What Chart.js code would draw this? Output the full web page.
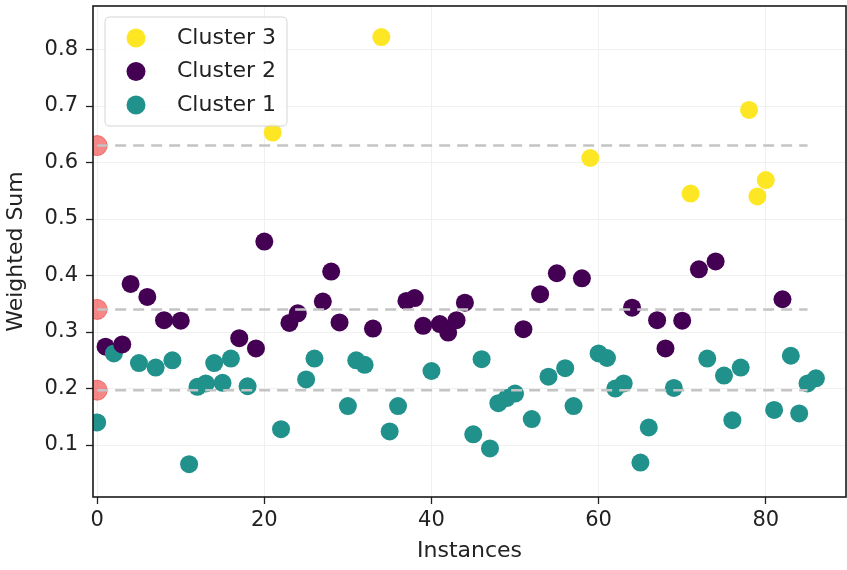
<!DOCTYPE html>
<html><head><meta charset="utf-8">
<script src="https://cdn.jsdelivr.net/npm/chart.js@4"></script>
<style>html,body{margin:0;padding:0;background:#fff;}</style>
</head><body>
<canvas id="c" width="847" height="570"></canvas>
<script>
const instances = [0,1,2,3,4,5,6,7,8,9,10,11,12,13,14,15,16,17,18,19,20,21,22,23,24,25,26,27,28,29,30,31,32,33,34,35,36,37,38,39,40,41,42,43,44,45,46,47,48,49,50,51,52,53,54,55,56,57,58,59,60,61,62,63,64,65,66,67,68,69,70,71,72,73,74,75,76,77,78,79,80,81,82,83,84,85,86];
const weightedSum = [0.140,0.274,0.262,0.278,0.385,0.245,0.362,0.237,0.321,0.250,
  0.320,0.066,0.203,0.209,0.245,0.210,0.253,0.289,0.204,0.271,
  0.460,0.653,0.128,0.316,0.333,0.216,0.253,0.354,0.407,0.317,
  0.169,0.250,0.242,0.306,0.822,0.124,0.169,0.355,0.360,0.311,
  0.231,0.314,0.299,0.321,0.352,0.119,0.252,0.094,0.174,0.183,
  0.191,0.305,0.146,0.367,0.221,0.404,0.236,0.169,0.395,0.608,
  0.262,0.254,0.200,0.209,0.343,0.069,0.131,0.321,0.271,0.201,
  0.320,0.545,0.411,0.253,0.425,0.223,0.144,0.237,0.693,0.540,
  0.569,0.162,0.358,0.258,0.156,0.209,0.218];
const clusterOf = [1,2,1,2,2,1,2,1,2,1,
  2,1,1,1,1,1,1,2,1,2,
  2,3,1,2,2,1,1,2,2,2,
  1,1,1,2,3,1,1,2,2,2,
  1,2,2,2,2,1,1,1,1,1,
  1,2,1,2,1,2,1,1,2,3,
  1,1,1,1,2,1,1,2,2,1,
  2,3,2,1,2,1,1,1,3,3,
  3,1,2,1,1,1,1];
const legendClusters = [3, 2, 1];
const thresholds = [0.63, 0.34, 0.197];
const thresholdSpan = [0, 85];
const xTickValues = [0, 20, 40, 60, 80];
const yTickValues = [0.1, 0.2, 0.3, 0.4, 0.5, 0.6, 0.7, 0.8];

const clusterColors = {3: '#fde725', 2: '#440154', 1: '#21918c'};
const FONT = 'DejaVu Sans';

const datasets = [];
thresholds.forEach(t => {
  datasets.push({
    type: 'line', order: 0, clip: 0,
    data: thresholdSpan.map(x => ({x: x, y: t})),
    borderColor: '#c4c4c4', borderWidth: 2.5, borderDash: [11, 7],
    pointRadius: 0, fill: false
  });
});
datasets.push({
  type: 'scatter', order: 1, clip: 0,
  data: thresholds.map(t => ({x: 0, y: t})),
  backgroundColor: 'rgba(240,55,55,0.6)', borderColor: 'rgba(235,60,60,0.6)', borderWidth: 1,
  pointRadius: 10
});
datasets.push({
  type: 'scatter', order: 2, clip: 0,
  data: instances.map((x, i) => ({x: x, y: weightedSum[i]})),
  pointBackgroundColor: clusterOf.map(c => clusterColors[c]),
  pointBorderWidth: 0, pointRadius: 9
});

const framePlugin = {
  id: 'frame',
  afterDatasetsDraw(chart) {
    const a = chart.chartArea, ctx = chart.ctx;
    ctx.save();
    ctx.strokeStyle = '#1a1a1a'; ctx.lineWidth = 1.6;
    ctx.strokeRect(a.left, a.top, a.right - a.left, a.bottom - a.top);
    // legend
    const lx = 105, ly = 17, lw = 182, lh = 109, r = 5;
    ctx.beginPath();
    ctx.moveTo(lx + r, ly); ctx.lineTo(lx + lw - r, ly); ctx.quadraticCurveTo(lx + lw, ly, lx + lw, ly + r);
    ctx.lineTo(lx + lw, ly + lh - r); ctx.quadraticCurveTo(lx + lw, ly + lh, lx + lw - r, ly + lh);
    ctx.lineTo(lx + r, ly + lh); ctx.quadraticCurveTo(lx, ly + lh, lx, ly + lh - r);
    ctx.lineTo(lx, ly + r); ctx.quadraticCurveTo(lx, ly, lx + r, ly);
    ctx.closePath();
    ctx.fillStyle = 'rgba(255,255,255,0.8)'; ctx.fill();
    ctx.strokeStyle = '#d4d4d4'; ctx.lineWidth = 1; ctx.stroke();
    ctx.font = '22px "' + FONT + '"';
    ctx.textBaseline = 'middle'; ctx.textAlign = 'left';
    legendClusters.forEach((c, i) => {
      const cy = 38 + i * 33.5;
      ctx.beginPath(); ctx.arc(136, cy, 9.5, 0, Math.PI * 2);
      ctx.fillStyle = clusterColors[c]; ctx.fill();
      ctx.fillStyle = '#222';
      ctx.fillText('Cluster ' + c, 177, cy);
    });
    ctx.restore();
  }
};

new Chart(document.getElementById('c'), {
  data: {datasets: datasets},
  options: {
    responsive: false, animation: false, devicePixelRatio: 1,
    layout: {autoPadding: false, padding: {top: 6, right: 1, left: 0, bottom: 0}},
    plugins: {legend: {display: false}, tooltip: {enabled: false}},
    scales: {
      x: {
        type: 'linear', min: -0.5, max: 89.6,
        afterBuildTicks: s => { s.ticks = xTickValues.map(v => ({value: v})); },
        afterFit: s => { s.height = 73; s.paddingLeft = 0; s.paddingRight = 0; },
        border: {display: false},
        grid: {color: '#f0f0f0', lineWidth: 1, tickColor: '#222', tickLength: 7, tickWidth: 1.3},
        ticks: {font: {family: FONT, size: 21}, color: '#222', padding: 4, maxRotation: 0},
        title: {display: true, text: 'Instances', font: {family: FONT, size: 22}, color: '#222', padding: {top: 6, bottom: 6}}
      },
      y: {
        type: 'linear', min: 0.008, max: 0.877,
        afterBuildTicks: s => { s.ticks = yTickValues.map(v => ({value: v})); },
        afterFit: s => { s.width = 93; s.paddingTop = 0; s.paddingBottom = 0; },
        border: {display: false},
        grid: {color: '#f0f0f0', lineWidth: 1, tickColor: '#222', tickLength: 7, tickWidth: 1.3},
        ticks: {font: {family: FONT, size: 21}, color: '#222', padding: 8, callback: v => v.toFixed(1)},
        title: {display: true, text: 'Weighted Sum', font: {family: FONT, size: 22}, color: '#222', padding: {top: 3, bottom: 3}}
      }
    }
  },
  plugins: [framePlugin]
});
</script>
</body></html>
